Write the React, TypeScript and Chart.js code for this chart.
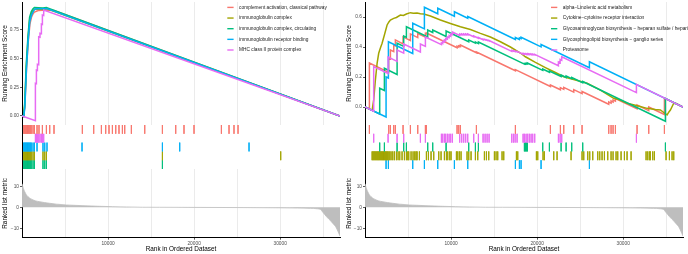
import React, { useEffect, useRef } from 'react';
import { Chart, registerables } from 'chart.js';

Chart.register(...registerables);

type Pt = [number, number];

// ---------------- shared axis data ----------------
const N_GENES = 36950;
const GRID_RANKS = [5000, 10000, 15000, 20000, 25000, 30000, 35000];
const LABELED_RANKS = [10000, 20000, 30000];
const LEFT_ES_TICKS = [0, 0.25, 0.5, 0.75];
const RIGHT_ES_TICKS = [0, 0.2, 0.4, 0.6];
const METRIC_TICKS = [-10, 0, 10];

// ranked list metric (same gene list for both panels)
const rankPositions = [1, 50, 150, 314, 500, 700, 1000, 1280, 1600, 2060, 2600, 3220, 4000, 5160, 6000, 7090, 9030, 10500, 12130, 14000, 16000, 20000, 25000, 30000, 32000, 33500, 34300, 34700, 34910, 35150, 35370, 35650, 35950, 36200, 36450, 36720, 36950];
const rankedMetric = [11.2, 10.5, 9.0, 7.4, 6.0, 5.0, 4.1, 3.5, 3.0, 2.65, 2.25, 1.9, 1.5, 1.1, 0.95, 0.76, 0.47, 0.3, 0.15, 0.02, 0, -0.05, -0.12, -0.25, -0.35, -0.5, -0.7, -1.1, -2.1, -3.3, -4.4, -5.6, -6.8, -8.0, -9.2, -11.5, -13.6];

// ---------------- left panel ----------------
const leftTerms = [
  'complement activation, classical pathway',
  'immunoglobulin complex',
  'immunoglobulin complex, circulating',
  'immunoglobulin receptor binding',
  'MHC class II protein complex',
];
const leftES_complement: Pt[] = [[0, 0], [198, -0.004], [330, 0.09], [530, 0.42], [720, 0.64], [920, 0.8], [1100, 0.86], [1280, 0.89], [1440, 0.905], [1745, 0.915], [1977, 0.92], [2370, 0.922], [2835, 0.924], [3220, 0.922], [3720, 0.918], [36950, 0]];
const leftES_igComplex: Pt[] = [[0, 0], [200, -0.004], [320, 0.1], [510, 0.44], [700, 0.67], [890, 0.84], [1090, 0.895], [1280, 0.92], [1440, 0.93], [2440, 0.93], [2835, 0.935], [36950, 0]];
const leftES_igCirculating: Pt[] = [[0, 0], [200, -0.004], [310, 0.11], [500, 0.46], [690, 0.69], [880, 0.86], [1080, 0.91], [1280, 0.935], [1440, 0.945], [2440, 0.94], [2835, 0.945], [36950, 0]];
const leftES_igReceptor: Pt[] = [[0, 0], [200, -0.004], [330, 0.07], [520, 0.41], [710, 0.65], [900, 0.82], [1092, 0.875], [1278, 0.905], [1476, 0.93], [1745, 0.935], [2905, 0.935], [36950, 0]];
const leftES_mhc: Pt[] = [[0, 0], [1557, -0.041], [1557, 0.285], [1673, 0.282], [1673, 0.4], [1790, 0.397], [1790, 0.45], [1940, 0.446], [1940, 0.69], [2090, 0.686], [2090, 0.72], [2254, 0.716], [2254, 0.8], [2370, 0.797], [2370, 0.88], [2520, 0.876], [2520, 0.922], [36950, 0]];

const leftLeadBlock = [200, 310, 420, 530, 640, 750, 860, 970, 1080];
const leftHits_complement = [...leftLeadBlock, 1280, 1440, 1745, 1977, 2370, 2835, 3220, 3720, 7015, 8330, 9225, 9725, 10110, 10505, 10890, 11270, 11665, 11935, 12710, 14260, 16315, 17860, 18825, 19990, 23170, 24055, 24635, 25100];
const leftHits_igComplex = [...leftLeadBlock, 1280, 1440, 2440, 2640, 2835, 16315, 30060];
const leftHits_igCirculating = [...leftLeadBlock, 1280, 1440, 2440, 2640, 2835, 16315];
const leftHits_igReceptor = [...leftLeadBlock, 1280, 1440, 1745, 2440, 2640, 2905, 6975, 16315, 18325, 26380];
const leftHits_mhc = [1557, 1673, 1790, 1940, 2090, 2254, 2370, 2520];

// ---------------- right panel ----------------
const rightTerms = [
  'alpha−Linolenic acid metabolism',
  'Cytokine−cytokine receptor interaction',
  'Glycosaminoglycan biosynthesis − heparan sulfate / heparin',
  'Glycosphingolipid biosynthesis − ganglio series',
  'Proteasome',
];
const rightES_linolenic: Pt[] = [[0, 0], [511, -0.014], [511, 0.293], [2758, 0.231], [2758, 0.327], [2951, 0.321], [2951, 0.38], [3339, 0.369], [3339, 0.413], [3532, 0.408], [3532, 0.447], [4423, 0.42], [4423, 0.467], [5275, 0.443], [5275, 0.487], [6128, 0.463], [6128, 0.49], [7018, 0.466], [7018, 0.49], [7135, 0.487], [7135, 0.493], [10698, 0.395], [10698, 0.405], [10892, 0.4], [10892, 0.408], [11085, 0.403], [11085, 0.413], [12945, 0.362], [12945, 0.367], [17476, 0.242], [17476, 0.249], [21543, 0.137], [21543, 0.147], [22705, 0.115], [22705, 0.129], [23093, 0.118], [23093, 0.131], [24254, 0.099], [24254, 0.116], [25223, 0.089], [25223, 0.103], [28322, 0.018], [28322, 0.033], [28593, 0.0255], [28593, 0.04], [28825, 0.0336], [28825, 0.047], [29096, 0.0395], [29096, 0.057], [31614, -0.012], [31614, 0.013], [32970, -0.024], [32970, 0.0], [34790, -0.05], [34790, 0.058], [36950, 0]];
const rightES_cytokine: Pt[] = [[0, 0], [825, -0.023], [1011, 0.047], [1208, 0.18], [1406, 0.291], [1592, 0.358], [1789, 0.393], [1987, 0.425], [2254, 0.48], [2568, 0.547], [2777, 0.567], [2951, 0.58], [3335, 0.591], [3649, 0.597], [4113, 0.613], [4462, 0.61], [4811, 0.62], [5275, 0.629], [5624, 0.625], [6054, 0.627], [6437, 0.622], [6821, 0.62], [7599, 0.607], [8761, 0.58], [9923, 0.557], [11085, 0.535], [12247, 0.517], [13410, 0.491], [14572, 0.467], [15734, 0.435], [16896, 0.4], [18058, 0.36], [18639, 0.335], [19801, 0.297], [20963, 0.263], [22125, 0.23], [23089, 0.202], [24448, 0.18], [25808, 0.158], [27355, 0.113], [28899, 0.058], [29500, 0.05], [30456, 0.025], [31537, 0.01], [32780, -0.009], [33744, -0.017], [34325, -0.02], [34790, -0.04], [35104, -0.053], [35313, -0.033], [35487, -0.02], [35871, 0.025], [36185, 0.023], [36950, 0]];
const rightES_glycosaminoglycan: Pt[] = [[0, 0], [1708, -0.047], [1708, 0.125], [2254, 0.11], [2254, 0.258], [3730, 0.217], [3730, 0.425], [4497, 0.404], [4497, 0.473], [4811, 0.464], [4811, 0.535], [7286, 0.467], [7286, 0.513], [7867, 0.497], [7867, 0.513], [9424, 0.47], [9424, 0.507], [12050, 0.435], [12050, 0.447], [12828, 0.426], [12828, 0.433], [13177, 0.423], [13177, 0.433], [18522, 0.286], [18522, 0.289], [18638, 0.286], [18638, 0.29], [18755, 0.287], [18755, 0.291], [18871, 0.288], [18871, 0.293], [20649, 0.244], [20649, 0.253], [21427, 0.232], [21427, 0.24], [22787, 0.203], [22787, 0.213], [23368, 0.197], [23368, 0.207], [24019, 0.189], [24019, 0.197], [25297, 0.162], [25297, 0.17], [34906, -0.095], [34906, 0.057], [36950, 0]];
const rightES_glycosphingolipid: Pt[] = [[0, 0], [2448, -0.067], [2448, 0.2], [2719, 0.193], [2719, 0.435], [5546, 0.357], [5546, 0.558], [6902, 0.521], [6902, 0.665], [8451, 0.622], [8451, 0.658], [10388, 0.605], [10388, 0.635], [11937, 0.592], [11937, 0.603], [17476, 0.45], [17476, 0.463], [17941, 0.45], [17941, 0.461], [18135, 0.456], [18135, 0.465], [20459, 0.401], [20459, 0.417], [26075, 0.262], [26075, 0.302], [36950, 0]];
const rightES_proteasome: Pt[] = [[0, 0], [1011, -0.028], [1011, 0.269], [2684, 0.223], [2684, 0.333], [3730, 0.304], [3730, 0.38], [4497, 0.359], [4497, 0.42], [6437, 0.367], [6437, 0.42], [7018, 0.404], [7018, 0.467], [8878, 0.416], [8878, 0.427], [9029, 0.423], [9029, 0.437], [9226, 0.432], [9226, 0.447], [9377, 0.443], [9377, 0.457], [9575, 0.452], [9575, 0.467], [9772, 0.462], [9772, 0.477], [9958, 0.472], [9958, 0.487], [10156, 0.482], [10156, 0.5], [11004, 0.477], [11004, 0.487], [11237, 0.481], [11237, 0.487], [11469, 0.481], [11469, 0.487], [11701, 0.481], [11701, 0.487], [11934, 0.481], [11934, 0.487], [12631, 0.468], [12631, 0.473], [13177, 0.458], [13177, 0.463], [13723, 0.448], [13723, 0.453], [13956, 0.447], [13956, 0.45], [14188, 0.444], [14188, 0.447], [14420, 0.441], [14420, 0.443], [17047, 0.371], [17047, 0.377], [17244, 0.372], [17244, 0.375], [17442, 0.37], [17442, 0.373], [17674, 0.367], [17674, 0.371], [18371, 0.352], [18371, 0.357], [18522, 0.353], [18522, 0.356], [18720, 0.351], [18720, 0.355], [18906, 0.35], [18906, 0.355], [19103, 0.35], [19103, 0.354], [19301, 0.349], [19301, 0.353], [19487, 0.348], [19487, 0.353], [19719, 0.347], [19719, 0.351], [22473, 0.275], [22473, 0.3], [22671, 0.295], [22671, 0.317], [22857, 0.312], [22857, 0.335], [31537, 0.096], [31537, 0.151], [36950, 0]];

const rightHits_linolenic = [511, 2758, 2951, 3339, 3532, 4423, 5275, 6128, 7018, 7135, 10698, 10892, 11085, 12945, 17476, 21543, 22705, 23093, 24254, 25223, 28322, 28593, 28825, 29096, 31614, 32970, 34790];
const rightHits_cytokine = [830, 940, 1050, 1160, 1270, 1380, 1490, 1600, 1710, 1820, 1930, 2040, 2150, 2260, 2370, 2480, 2590, 2700, 2874, 3029, 3223, 3416, 3649, 3842, 4036, 4307, 4579, 4811, 4966, 5082, 5353, 5585, 5779, 5934, 6050, 6321, 7135, 7367, 7677, 7987, 8568, 8839, 9226, 9459, 9614, 9846, 10001, 10621, 10776, 10969, 11163, 11860, 12054, 12325, 12828, 13100, 13874, 14107, 14378, 15036, 15230, 15423, 15927, 16121, 17593, 17747, 19916, 20071, 20691, 20846, 21931, 22318, 23945, 25223, 25417, 25882, 26114, 26463, 27043, 27276, 27547, 27818, 28206, 28593, 28825, 29174, 29368, 29755, 30143, 30452, 30917, 32660, 32854, 33047, 33163, 33434, 33628, 34984, 35371, 35681, 35875];
const rightHits_glycosaminoglycan = [1708, 2254, 3730, 4497, 4811, 7286, 7867, 9424, 12050, 12828, 13177, 18522, 18638, 18755, 18871, 20649, 21427, 22787, 23368, 24019, 25297, 34906];
const rightHits_glycosphingolipid = [2448, 2719, 5546, 6902, 8451, 10388, 11937, 17476, 17941, 18135, 20459, 26075];
const rightHits_proteasome = [1011, 2684, 3730, 4497, 6437, 7018, 8878, 9029, 9226, 9377, 9575, 9772, 9958, 10156, 11004, 11237, 11469, 11701, 11934, 12631, 13177, 13723, 13956, 14188, 14420, 17047, 17244, 17442, 17674, 18371, 18522, 18720, 18906, 19103, 19301, 19487, 19719, 22473, 22671, 22857, 31537];

// ---------------- styles ----------------
const FONT = "'Liberation Sans', Arial, Helvetica, sans-serif";
const HUE = ['#F8766D', '#A3A500', '#00BF7D', '#00B0F6', '#E76BF3'];
const GRID = '#EBEBEB';
const TICK_TEXT = '#4D4D4D';
const TICK_SIZE = 4.8;
const TITLE_SIZE = 6.4;
const LEGEND_SIZE = 4.8;

Chart.defaults.font.family = FONT;

const toXY = (pts: Pt[]) => pts.map(([x, y]) => ({ x, y }));

function rugData(hits: number[], row: number) {
  const out: any[] = [];
  for (const h of hits) {
    out.push({ x: h, y: row }, { x: h, y: row + 1 }, { x: h, y: null });
  }
  return out;
}

function legendPlugin(labels: string[], colors: string[], keyX: number, textX: number) {
  return {
    id: 'gseaLegend',
    afterDatasetsDraw(chart: any) {
      const ctx = chart.ctx;
      ctx.save();
      ctx.font = `${LEGEND_SIZE}px ${FONT}`;
      ctx.textBaseline = 'middle';
      ctx.textAlign = 'left';
      labels.forEach((lab, i) => {
        const y = 7.4 + i * 10.65;
        ctx.strokeStyle = colors[i];
        ctx.lineWidth = 1.4;
        ctx.beginPath();
        ctx.moveTo(keyX, y);
        ctx.lineTo(keyX + 6.3, y);
        ctx.stroke();
        ctx.fillStyle = '#1A1A1A';
        ctx.fillText(lab, textX, y);
      });
      ctx.restore();
    },
  };
}

const baseOptions = (padRight: number, padTop: number) => ({
  responsive: false,
  animation: false,
  devicePixelRatio: 1,
  events: [],
  layout: { padding: { top: padTop, right: padRight, bottom: 0, left: 0 }, autoPadding: false },
  plugins: { legend: { display: false }, tooltip: { enabled: false } },
});

function yAxisBase(width: number) {
  return {
    position: 'left',
    afterFit: (s: any) => {
      s.width = width;
      s.paddingTop = 0;
      s.paddingBottom = 0;
    },
    border: { display: true, color: '#000000', width: 1 },
  };
}

function esConfig(p: any) {
  return {
    type: 'line',
    data: {
      datasets: p.curves.map((c: Pt[], i: number) => ({
        label: p.labels[i],
        data: toXY(c),
        borderColor: HUE[i],
        borderWidth: 1.5,
        pointRadius: 0,
        tension: 0,
        fill: false,
        order: p.curves.length - i,
      })),
    },
    options: {
      ...baseOptions(p.padRight, 2),
      scales: {
        x: {
          type: 'linear',
          min: 0,
          max: N_GENES,
          position: 'bottom',
          afterBuildTicks: (s: any) => { s.ticks = GRID_RANKS.map((v) => ({ value: v })); },
          afterFit: (s: any) => { s.height = 0; s.paddingLeft = 0; s.paddingRight = 0; },
          ticks: { display: false },
          grid: { color: GRID, lineWidth: 1, drawTicks: false },
          border: { display: false },
        },
        y: {
          ...yAxisBase(p.axisWidth),
          type: 'linear',
          min: p.min,
          max: p.max,
          afterBuildTicks: (s: any) => { s.ticks = p.ticks.map((v: number) => ({ value: v })); },
          ticks: {
            font: { size: TICK_SIZE, family: FONT },
            color: TICK_TEXT,
            padding: 1,
            callback: (v: any) => Number(v).toFixed(p.decimals),
          },
          grid: { drawOnChartArea: false, drawTicks: true, tickLength: 2, tickColor: '#333333', tickWidth: 0.8 },
          title: {
            display: true,
            text: 'Running Enrichment Score',
            color: '#000000',
            font: { size: TITLE_SIZE, family: FONT },
            padding: { top: 1.2, bottom: 0 },
          },
        },
      },
    },
    plugins: [legendPlugin(p.labels, HUE, p.keyX, p.textX)],
  };
}

function rugConfig(p: any) {
  return {
    type: 'line',
    data: {
      datasets: p.rows.map((r: any, row: number) => ({
        data: rugData(r.hits, row),
        borderColor: HUE[r.color],
        borderWidth: 0.85,
        pointRadius: 0,
        spanGaps: false,
        fill: false,
      })),
    },
    options: {
      ...baseOptions(p.padRight, 0),
      scales: {
        x: { type: 'linear', min: 0, max: N_GENES, display: false },
        y: {
          ...yAxisBase(p.axisWidth),
          type: 'linear',
          min: 0,
          max: 5,
          reverse: true,
          ticks: { display: false },
          grid: { display: false },
        },
      },
    },
  };
}

function metricConfig(p: any) {
  return {
    type: 'line',
    data: {
      datasets: [
        {
          data: rankPositions.map((r, i) => ({ x: r, y: rankedMetric[i] })),
          borderColor: '#BEBEBE',
          backgroundColor: '#BEBEBE',
          borderWidth: 0.8,
          pointRadius: 0,
          fill: 'origin',
          cubicInterpolationMode: 'monotone',
        },
      ],
    },
    options: {
      ...baseOptions(p.padRight, 0),
      scales: {
        x: {
          type: 'linear',
          min: 0,
          max: N_GENES,
          position: 'bottom',
          afterBuildTicks: (s: any) => { s.ticks = GRID_RANKS.map((v) => ({ value: v })); },
          afterFit: (s: any) => { s.height = 16.3; s.paddingLeft = 0; s.paddingRight = 0; },
          ticks: {
            autoSkip: false,
            maxRotation: 0,
            padding: 1,
            font: { size: TICK_SIZE, family: FONT },
            color: TICK_TEXT,
            callback: (v: any) => (LABELED_RANKS.includes(Number(v)) ? String(v) : ''),
          },
          grid: {
            color: GRID,
            lineWidth: 1,
            drawTicks: true,
            tickLength: 2,
            tickWidth: 0.8,
            tickColor: (c: any) => (c.tick && LABELED_RANKS.includes(c.tick.value) ? '#333333' : 'rgba(0,0,0,0)'),
          },
          border: { display: true, color: '#000000', width: 1 },
          title: {
            display: true,
            text: 'Rank in Ordered Dataset',
            color: '#000000',
            font: { size: TITLE_SIZE, family: FONT },
            padding: { top: 0, bottom: 1.2 },
          },
        },
        y: {
          ...yAxisBase(p.axisWidth),
          type: 'linear',
          min: -14.41,
          max: 18.15,
          afterBuildTicks: (s: any) => { s.ticks = METRIC_TICKS.map((v) => ({ value: v })); },
          ticks: {
            font: { size: TICK_SIZE, family: FONT },
            color: TICK_TEXT,
            padding: 1,
            callback: (v: any) => (Number(v) < 0 ? '−' + Math.abs(Number(v)) : String(v)),
          },
          grid: { drawOnChartArea: false, drawTicks: true, tickLength: 2, tickColor: '#333333', tickWidth: 0.8 },
          title: {
            display: true,
            text: 'Ranked list metric',
            color: '#000000',
            font: { size: TITLE_SIZE, family: FONT },
            padding: { top: 1.2, bottom: 0 },
          },
        },
      },
    },
  };
}

const PANEL_W = 344;
const ES_H = 125;
const RUG_H = 44;
const MET_H = 85;

export default function App() {
  const r0 = useRef<HTMLCanvasElement>(null);
  const r1 = useRef<HTMLCanvasElement>(null);
  const r2 = useRef<HTMLCanvasElement>(null);
  const r3 = useRef<HTMLCanvasElement>(null);
  const r4 = useRef<HTMLCanvasElement>(null);
  const r5 = useRef<HTMLCanvasElement>(null);

  useEffect(() => {
    const charts: any[] = [];
    const left = { axisWidth: 22, padRight: 4 };
    const right = { axisWidth: 21, padRight: 5 };

    charts.push(new Chart(r0.current as any, esConfig({
      ...left,
      curves: [leftES_complement, leftES_igComplex, leftES_igCirculating, leftES_igReceptor, leftES_mhc],
      labels: leftTerms,
      min: -0.0784,
      max: 0.993,
      ticks: LEFT_ES_TICKS,
      decimals: 2,
      keyX: 227.3,
      textX: 239.1,
    }) as any));
    charts.push(new Chart(r1.current as any, rugConfig({
      ...left,
      rows: [
        { hits: leftHits_complement, color: 0 },
        { hits: leftHits_mhc, color: 4 },
        { hits: leftHits_igReceptor, color: 3 },
        { hits: leftHits_igComplex, color: 1 },
        { hits: leftHits_igCirculating, color: 2 },
      ],
    }) as any));
    charts.push(new Chart(r2.current as any, metricConfig(left) as any));

    charts.push(new Chart(r3.current as any, esConfig({
      ...right,
      curves: [rightES_linolenic, rightES_cytokine, rightES_glycosaminoglycan, rightES_glycosphingolipid, rightES_proteasome],
      labels: rightTerms,
      min: -0.12,
      max: 0.7,
      ticks: RIGHT_ES_TICKS,
      decimals: 1,
      keyX: 207,
      textX: 218.8,
    }) as any));
    charts.push(new Chart(r4.current as any, rugConfig({
      ...right,
      rows: [
        { hits: rightHits_linolenic, color: 0 },
        { hits: rightHits_proteasome, color: 4 },
        { hits: rightHits_glycosaminoglycan, color: 2 },
        { hits: rightHits_cytokine, color: 1 },
        { hits: rightHits_glycosphingolipid, color: 3 },
      ],
    }) as any));
    charts.push(new Chart(r5.current as any, metricConfig(right) as any));

    return () => charts.forEach((c) => c.destroy());
  }, []);

  const cv = (ref: any, left: number, top: number, h: number) => (
    <canvas
      ref={ref}
      width={PANEL_W}
      height={h}
      style={{ position: 'absolute', left, top, width: PANEL_W, height: h, display: 'block' }}
    />
  );

  return (
    <div style={{ position: 'fixed', left: 0, top: 0, width: 688, height: 254, background: '#ffffff', overflow: 'hidden' }}>
      {cv(r0, 0, 0, ES_H)}
      {cv(r1, 0, ES_H, RUG_H)}
      {cv(r2, 0, ES_H + RUG_H, MET_H)}
      {cv(r3, PANEL_W, 0, ES_H)}
      {cv(r4, PANEL_W, ES_H, RUG_H)}
      {cv(r5, PANEL_W, ES_H + RUG_H, MET_H)}
    </div>
  );
}
